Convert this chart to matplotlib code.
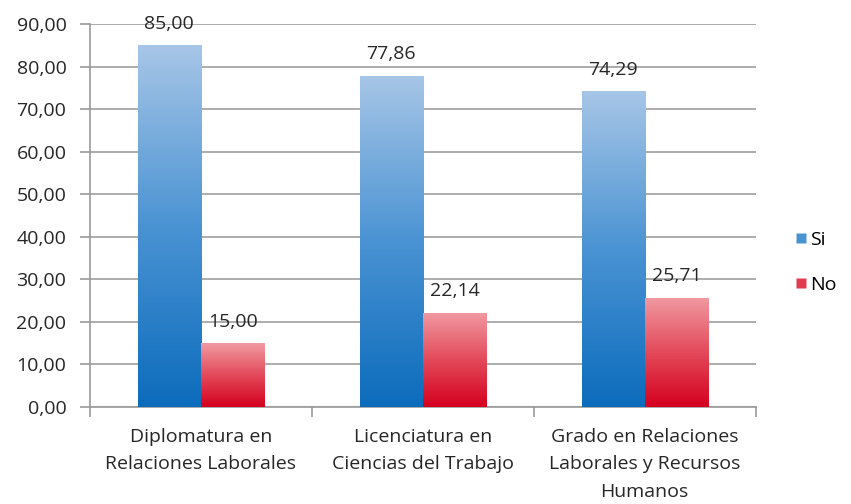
import numpy as np
import matplotlib
matplotlib.use("Agg")
import matplotlib.pyplot as plt
from matplotlib.colors import LinearSegmentedColormap
from matplotlib.lines import Line2D

categories = ["Diplomatura en\nRelaciones Laborales",
              "Licenciatura en\nCiencias del Trabajo",
              "Grado en Relaciones\nLaborales y Recursos\nHumanos"]
series_names = ["Si", "No"]
si_values = [85.00, 77.86, 74.29]
no_values = [15.00, 22.14, 25.71]
y_ticks = [0, 10, 20, 30, 40, 50, 60, 70, 80, 90]

plt.rcParams['font.family'] = ['Open Sans', 'DejaVu Sans']
FS = 14
TXT = "#262626"

fig = plt.figure(figsize=(8.51, 5.04), dpi=100)
ax = fig.add_axes([0.1058, 0.1925, 0.7822, 0.7595])

# gradient colour ramps (bottom -> top)
blue_cmap = LinearSegmentedColormap.from_list("blue", ["#0c6cbc", "#4a93d3", "#a7c6e7"])
red_cmap = LinearSegmentedColormap.from_list("red", ["#d5001f", "#e34a5a", "#f19aa2"])

n = len(categories)
x = np.arange(n)
w = 0.285

for vals, offset, cmap in [(si_values, -w / 2, blue_cmap), (no_values, w / 2, red_cmap)]:
    bars = ax.bar(x + offset, vals, width=w, color="none", edgecolor="none", zorder=3)
    grad = np.linspace(0, 1, 256).reshape(-1, 1)
    for b in bars:
        x0, y0 = b.get_x(), b.get_y()
        im = ax.imshow(grad, cmap=cmap, origin="lower", aspect="auto",
                       extent=[x0, x0 + b.get_width(), y0, y0 + b.get_height()],
                       zorder=3, interpolation="bilinear")
        im.set_clip_path(b)
    for xi, v in zip(x + offset, vals):
        ax.annotate(f"{v:.2f}".replace(".", ","), (xi, v), xytext=(0, 9),
                    textcoords="offset points", ha="center", va="bottom",
                    fontsize=FS, color=TXT, zorder=4)

ax.set_xlim(-0.5, n - 0.5)
ax.set_ylim(0, 90)
ax.set_yticks(y_ticks)
ax.set_yticklabels([f"{t:.2f}".replace(".", ",") for t in y_ticks], fontsize=FS, color=TXT)

# category labels centred, tick marks on boundaries
ax.set_xticks(x)
ax.set_xticklabels(categories, fontsize=FS, color=TXT, linespacing=1.68)
ax.tick_params(axis="x", length=0, pad=15)
ax.set_xticks(np.arange(-0.5, n), minor=True)
ax.tick_params(axis="x", which="minor", length=7, color="#9a9a9a", width=1.2)
ax.tick_params(axis="y", length=7, color="#9a9a9a", width=1.2, pad=10)

ax.grid(axis="y", color="#a6a6a6", linewidth=1.3, zorder=0)
ax.set_axisbelow(True)
for s in ["top", "right"]:
    ax.spines[s].set_visible(False)
for s in ["left", "bottom"]:
    ax.spines[s].set_color("#9a9a9a")
    ax.spines[s].set_linewidth(1.2)

handles = [Line2D([], [], marker="s", linestyle="none", markersize=7,
                  markerfacecolor="#4a93d3", markeredgecolor="none"),
           Line2D([], [], marker="s", linestyle="none", markersize=7,
                  markerfacecolor="#e23a4e", markeredgecolor="none")]
fig.legend(handles, series_names, loc="center left", bbox_to_anchor=(0.912, 0.479),
           frameon=False, fontsize=FS, handletextpad=0.05, labelspacing=1.4,
           handlelength=0.8)

fig.savefig("out.png", dpi=100)
